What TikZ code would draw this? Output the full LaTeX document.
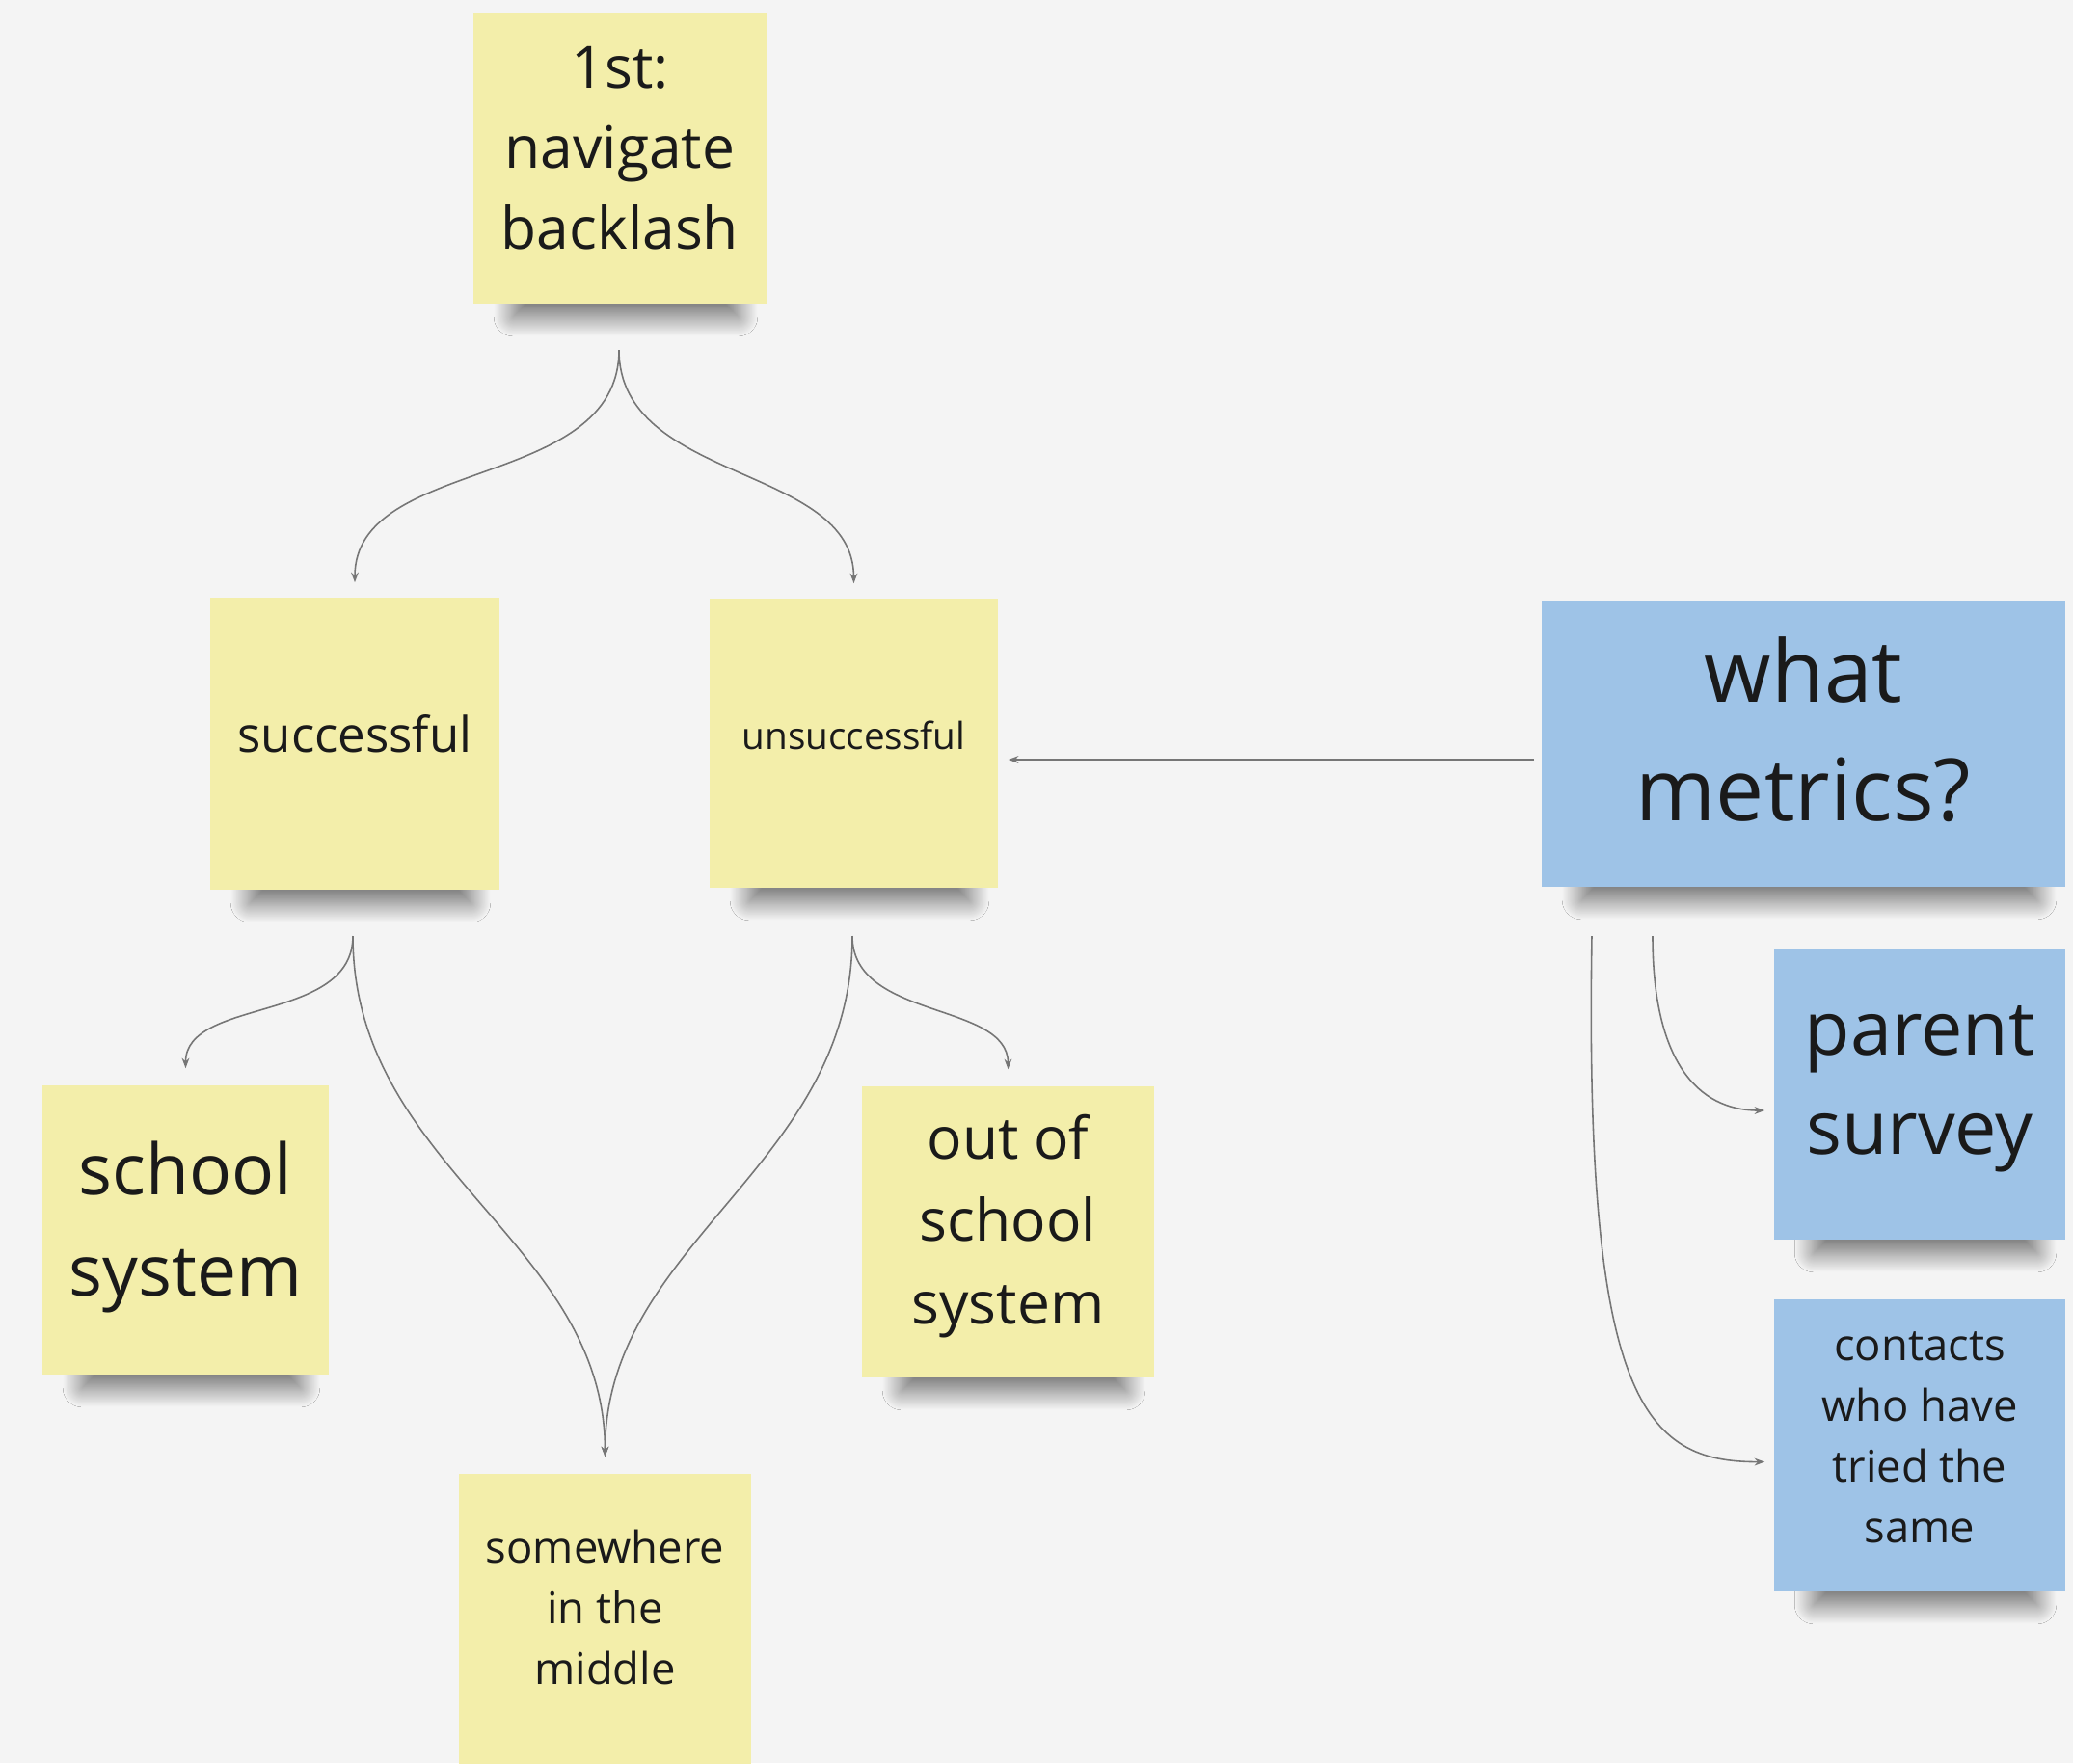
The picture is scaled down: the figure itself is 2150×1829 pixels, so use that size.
\documentclass[tikz,border=0pt]{standalone}
\usepackage{fontspec}
\setmainfont{Open Sans}
\usetikzlibrary{shadows.blur,arrows.meta}
\definecolor{bgc}{HTML}{F4F4F4}
\definecolor{ylw}{HTML}{F3EEAA}
\definecolor{blu}{HTML}{9EC3E7}
\definecolor{ink}{HTML}{1A1A1A}
\definecolor{wire}{HTML}{767676}
\pgfdeclarelayer{back}
\pgfsetlayers{back,main}
\newcommand\notesh[1]{\path[shadowfx] ([xshift=0.42cm,yshift=0.3cm]#1.south west) rectangle ([xshift=-0.3cm,yshift=-0.13cm]#1.south east);}
\begin{document}
\begin{tikzpicture}[x=0.01cm,y=-0.01cm,
  note/.style={rectangle, inner sep=0pt},
  ynote/.style={note, fill=ylw},
  bnote/.style={note, fill=blu},
  txt/.style={align=center, text=ink, inner sep=0pt},
  shadowfx/.style={blur shadow={shadow xshift=0pt, shadow yshift=0pt, shadow blur radius=0.2cm, shadow blur steps=24, shadow opacity=55}},
  conn/.style={draw=wire, line width=0.45pt, -{Stealth[length=3pt,width=2.2pt]}},
]
\begin{pgfonlayer}{back}
\fill[bgc] (0,0) rectangle (2150,1829);
\end{pgfonlayer}
\useasboundingbox (0,0) rectangle (2150,1829);

% notes
\node[ynote, minimum width=3.04cm, minimum height=3.01cm] (top) at (643,164.5) {};
\node[ynote, minimum width=3.00cm, minimum height=3.03cm] (succ) at (368,771.5) {};
\node[ynote, minimum width=2.99cm, minimum height=3.00cm] (uns) at (885.5,771) {};
\node[bnote, minimum width=5.43cm, minimum height=2.96cm] (metrics) at (1870.5,772) {};
\node[ynote, minimum width=2.97cm, minimum height=3.00cm] (school) at (192.5,1276) {};
\node[ynote, minimum width=3.03cm, minimum height=3.02cm] (outof) at (1045.5,1278) {};
\node[ynote, minimum width=3.03cm, minimum height=3.05cm] (mid) at (627.5,1681.5) {};
\node[bnote, minimum width=3.02cm, minimum height=3.02cm] (parent) at (1991,1135) {};
\node[bnote, minimum width=3.02cm, minimum height=3.03cm] (contacts) at (1991,1499.5) {};

% shadows
\begin{pgfonlayer}{back}
\notesh{top}\notesh{succ}\notesh{uns}\notesh{metrics}\notesh{school}\notesh{outof}\notesh{parent}\notesh{contacts}
\end{pgfonlayer}

% texts
\node[txt, font=\fontsize{17.2pt}{23.7pt}\selectfont] (top-t) at ([yshift=0.11cm]top.center) {1st:\\navigate\\backlash};
\node[txt, font=\fontsize{14.5pt}{18pt}\selectfont] (succ-t) at ([yshift=0.10cm]succ.center) {successful};
\node[txt, font=\fontsize{11pt}{14pt}\selectfont] (uns-t) at ([yshift=0.08cm]uns.center) {unsuccessful};
\node[txt, font=\fontsize{25.4pt}{35pt}\selectfont] (metrics-t) at ([yshift=0.15cm]metrics.center) {what\\metrics?};
\node[txt, font=\fontsize{20.8pt}{29.8pt}\selectfont] (school-t) at ([yshift=0.03cm]school.center) {school\\system};
\node[txt, font=\fontsize{17.2pt}{24.3pt}\selectfont] (outof-t) at ([yshift=0.06cm]outof.center) {out of\\school\\system};
\node[txt, font=\fontsize{12.9pt}{17.9pt}\selectfont] (mid-t) at ([yshift=0.14cm]mid.center) {somewhere\\in the\\middle};
\node[txt, font=\fontsize{22pt}{29.2pt}\selectfont] (parent-t) at ([yshift=0.05cm]parent.center) {parent\\survey};
\node[txt, font=\fontsize{12.9pt}{17.9pt}\selectfont] (contacts-t) at ([yshift=0.08cm]contacts.center) {contacts\\who have\\tried the\\same};

% fork points
\coordinate (topfork) at (642,363);
\coordinate (succfork) at (366,971);
\coordinate (unsfork) at (884,971);
\coordinate (mfrom) at (1591,788);
\coordinate (mfork1) at (1651,971);
\coordinate (mfork2) at (1714,971);

% connectors
\draw[conn, shorten >=0.15cm] (topfork) to[out=-90,in=90] (succ.north);
\draw[conn, shorten >=0.15cm] (topfork) to[out=-90,in=90] (uns.north);
\draw[conn, shorten >=0.17cm] (succfork) to[out=-90,in=90] (school.north);
\draw[conn, shorten >=0.17cm] (succfork) to[out=-90,in=90] (mid.north);
\draw[conn, shorten >=0.17cm] (unsfork) to[out=-90,in=90] (outof.north);
\draw[conn, shorten >=0.17cm] (unsfork) to[out=-90,in=90] (mid.north);
\draw[conn, shorten >=0.1cm] (mfrom) -- (uns.east |- mfrom);
\draw[conn, shorten >=0.09cm] (mfork2) .. controls (1714,1100) and (1760,1152) .. ([yshift=-0.17cm]parent.west);
\draw[conn, shorten >=0.09cm] (mfork1) .. controls (1643,1453) and (1705,1517) .. ([yshift=-0.17cm]contacts.west);
\end{tikzpicture}
\end{document}
